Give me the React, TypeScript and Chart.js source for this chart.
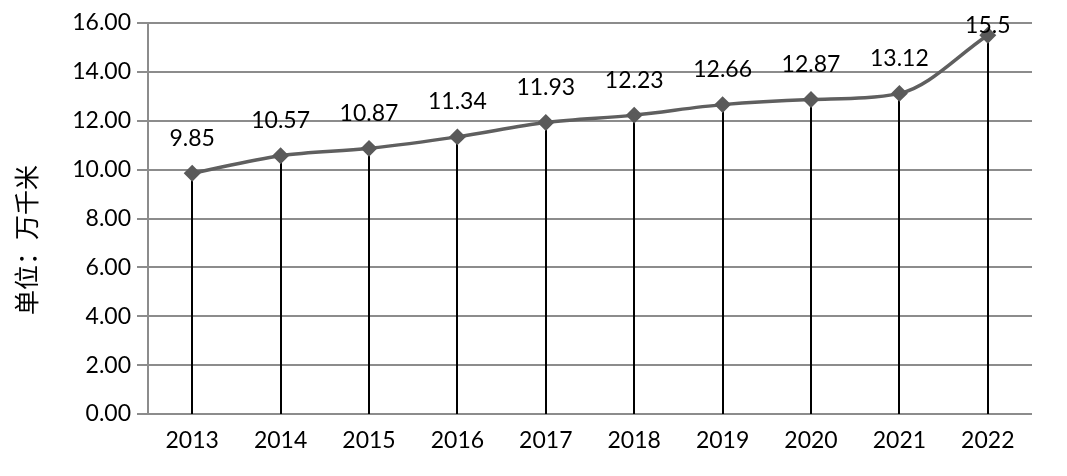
import React, { useEffect, useRef } from "react";
import { Chart, registerables } from "chart.js";

Chart.register(...registerables);

const years = ["2013", "2014", "2015", "2016", "2017", "2018", "2019", "2020", "2021", "2022"];
const mileage = [9.85, 10.57, 10.87, 11.34, 11.93, 12.23, 12.66, 12.87, 13.12, 15.5];
const valueLabels = ["9.85", "10.57", "10.87", "11.34", "11.93", "12.23", "12.66", "12.87", "13.12", "15.5"];
const yTitle = "单位：万千米";

const FONT = "Lato, 'Open Sans', sans-serif";

const dropLines = {
  id: "dropLines",
  beforeDatasetsDraw(chart: any) {
    const { ctx } = chart;
    const meta = chart.getDatasetMeta(0);
    const y0 = chart.scales.y.getPixelForValue(0);
    ctx.save();
    ctx.strokeStyle = "#000";
    ctx.lineWidth = 2;
    meta.data.forEach((pt: any) => {
      ctx.beginPath();
      ctx.moveTo(Math.round(pt.x), pt.y);
      ctx.lineTo(Math.round(pt.x), y0);
      ctx.stroke();
    });
    ctx.restore();
  },
};

const labelsAndTitle = {
  id: "labelsAndTitle",
  afterDatasetsDraw(chart: any) {
    const { ctx } = chart;
    const meta = chart.getDatasetMeta(0);
    ctx.save();
    ctx.fillStyle = "#000";
    ctx.font = `23px ${FONT}`;
    ctx.textAlign = "center";
    ctx.textBaseline = "middle";
    meta.data.forEach((pt: any, i: number) => {
      let y = pt.y - 35;
      if (y < 26) y = 26;
      ctx.fillText(valueLabels[i], pt.x, y);
    });
    ctx.translate(26, 240);
    ctx.rotate(-Math.PI / 2);
    ctx.font = "25px 'Noto Sans CJK SC', sans-serif";
    ctx.fillText(yTitle, 0, 0);
    ctx.restore();
  },
};

export default function App() {
  const ref = useRef<HTMLCanvasElement>(null);
  useEffect(() => {
    document.body.style.margin = "0";
    const chart = new Chart(ref.current!, {
      type: "line",
      data: {
        labels: years,
        datasets: [
          {
            data: mileage,
            borderColor: "#5f5f5f",
            borderWidth: 3.5,
            backgroundColor: "#5a5a5a",
            pointStyle: "rectRot",
            pointRadius: 6,
            pointBorderColor: "#5a5a5a",
            pointBackgroundColor: "#5a5a5a",
            tension: 0.35,
            cubicInterpolationMode: "monotone",
            fill: false,
          },
        ],
      },
      options: {
        animation: false,
        responsive: false,
        maintainAspectRatio: false,
        layout: { padding: { left: 0, right: 35, top: 23, bottom: 0 } },
        plugins: { legend: { display: false }, tooltip: { enabled: false } },
        scales: {
          x: {
            offset: true,
            grid: { display: false, drawTicks: false },
            border: { display: false },
            ticks: { color: "#000", font: { family: FONT, size: 23 }, padding: 13 },
            afterFit(scale: any) {
              scale.height = 62;
            },
          },
          y: {
            min: 0,
            max: 16,
            ticks: {
              stepSize: 2,
              color: "#000",
              font: { family: FONT, size: 23 },
              padding: 6,
              callback: (v: any) => Number(v).toFixed(2),
            },
            grid: { color: "#8c8c8c", lineWidth: 2, tickLength: 11 },
            border: { color: "#8c8c8c", width: 2 },
            afterFit(scale: any) {
              scale.width = 148;
            },
          },
        },
      },
      plugins: [dropLines, labelsAndTitle],
    });
    return () => chart.destroy();
  }, []);
  return (
    <div style={{ width: 1067, height: 476, background: "#fff" }}>
      <canvas ref={ref} width={1067} height={476} />
    </div>
  );
}
